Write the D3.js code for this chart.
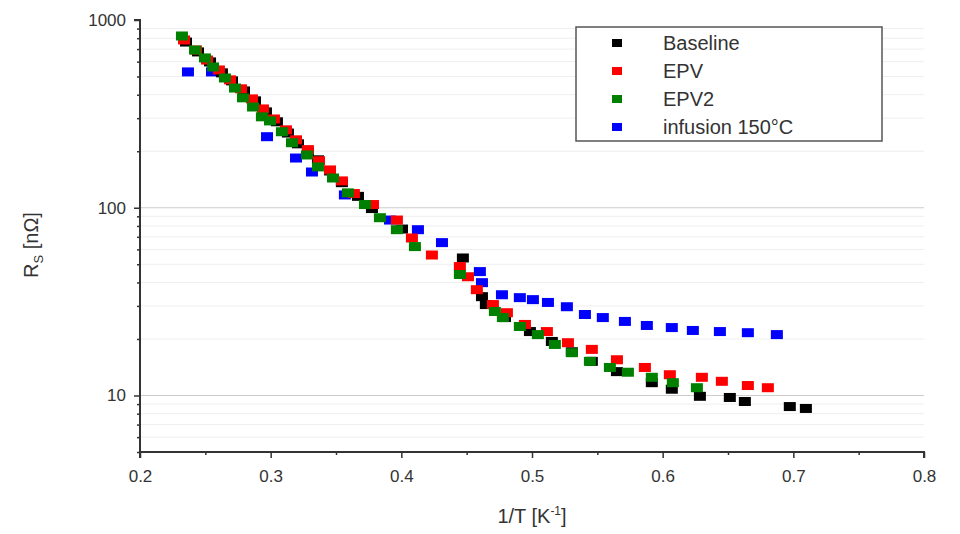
<!DOCTYPE html>
<html>
<head>
<meta charset="utf-8">
<script src="https://cdn.jsdelivr.net/npm/d3@7"></script>
<style>
  body { margin: 0; background: #fff; }
  svg { font-family: "Liberation Sans", Arial, sans-serif; }
</style>
</head>
<body>
<svg width="960" height="534"></svg>
<script>
// data: [1/T in K^-1, Rs in nOhm]
const baseline = [
  [0.2352, 763], [0.2444, 676], [0.2536, 598], [0.2627, 523], [0.2704, 474], [0.2796, 419],
  [0.2880, 371], [0.2964, 324], [0.3048, 287], [0.3132, 250], [0.3209, 219], [0.3285, 199],
  [0.3362, 180], [0.3454, 157], [0.3545, 136], [0.3668, 115], [0.3775, 99], [0.4005, 77],
  [0.4471, 54], [0.4617, 33.6], [0.4647, 30.5], [0.4793, 26.0], [0.4984, 21.9], [0.5152, 19.4],
  [0.5305, 17.1], [0.5458, 15.2], [0.5650, 13.4], [0.5917, 11.7], [0.6070, 10.8], [0.6285, 9.9],
  [0.6514, 9.76], [0.6629, 9.29], [0.6973, 8.73], [0.7096, 8.53]
];
const epv = [
  [0.2337, 783], [0.2428, 692], [0.2513, 612], [0.2604, 542], [0.2689, 480], [0.2773, 430],
  [0.2857, 380], [0.2941, 336], [0.3025, 297], [0.3117, 260], [0.3194, 230], [0.3285, 204],
  [0.3370, 178], [0.3454, 159], [0.3545, 139], [0.3637, 119], [0.3783, 104], [0.3966, 86],
  [0.4081, 69], [0.4234, 56], [0.4448, 48.6], [0.4510, 42.9], [0.4578, 36.6], [0.4701, 30.5],
  [0.4808, 27.6], [0.4946, 23.9], [0.5114, 21.9], [0.5275, 19.1], [0.5458, 17.6], [0.5650, 15.5],
  [0.5864, 14.1], [0.6055, 12.9], [0.6300, 12.5], [0.6453, 11.9], [0.6652, 11.3], [0.6805, 11.0]
];
const epv2 = [
  [0.2321, 822], [0.2421, 692], [0.2497, 628], [0.2559, 562], [0.2650, 491], [0.2727, 434],
  [0.2788, 385], [0.2865, 344], [0.2933, 305], [0.2995, 290], [0.3086, 254], [0.3163, 222],
  [0.3278, 191], [0.3362, 165], [0.3477, 144], [0.3591, 120], [0.3722, 104], [0.3836, 88.5],
  [0.3966, 76.4], [0.4104, 62.1], [0.4448, 44.1], [0.4716, 28.0], [0.4777, 26.0], [0.4907, 23.3],
  [0.5045, 21.1], [0.5175, 18.7], [0.5305, 16.9], [0.5443, 15.2], [0.5596, 14.1], [0.5734, 13.3],
  [0.5917, 12.5], [0.6078, 11.7], [0.6262, 11.0]
];
const infusion = [
  [0.2367, 529], [0.2551, 529], [0.2972, 239], [0.3194, 184], [0.3316, 155], [0.3568, 117],
  [0.3913, 86], [0.4127, 76.4], [0.4311, 65.2], [0.4601, 45.7], [0.4617, 39.9], [0.4770, 34.4],
  [0.4907, 33.2], [0.5007, 32.4], [0.5122, 31.3], [0.5267, 29.7], [0.5405, 27.0], [0.5542, 26.0],
  [0.5711, 24.8], [0.5879, 23.6], [0.6070, 23.0], [0.6231, 22.2], [0.6438, 21.9], [0.6652, 21.6],
  [0.6874, 21.1]
];

const seriesNames = ["Baseline", "EPV", "EPV2", "infusion 150\u00B0C"];
const seriesColors = ["#000000", "#ff0000", "#008000", "#0000ff"];
const xTicks = [0.2, 0.3, 0.4, 0.5, 0.6, 0.7, 0.8];
const yTicks = [10, 100, 1000];

const svg = d3.select("svg");
const x = d3.scaleLinear().domain([0.2, 0.8]).range([140, 924]);
const y = d3.scaleLog().domain([5, 1000]).range([452, 20]);

// minor values for the log axis
const yMinor = [];
[1, 10, 100].forEach(dec => {
  for (let k = 1; k < 10; k++) {
    const v = dec * k;
    if (v >= 5 && v <= 1000 && !yTicks.includes(v)) yMinor.push(v);
  }
});

// grid lines
svg.append("g").selectAll("line.minor")
  .data(yMinor)
  .enter().append("line")
  .attr("x1", x(0.2)).attr("x2", x(0.8))
  .attr("y1", d => y(d)).attr("y2", d => y(d))
  .attr("stroke", "#eeeeee").attr("stroke-width", 1);
svg.append("g").selectAll("line.major")
  .data([10, 100])
  .enter().append("line")
  .attr("x1", x(0.2)).attr("x2", x(0.8))
  .attr("y1", d => y(d)).attr("y2", d => y(d))
  .attr("stroke", "#cccccc").attr("stroke-width", 1.2);

// axes
const xAxis = svg.append("g")
  .attr("transform", `translate(0,${y(5)})`)
  .call(d3.axisBottom(x).tickValues(xTicks).tickFormat(d3.format(".1f")).tickSize(6).tickPadding(12));
svg.append("g")
  .attr("transform", `translate(0,${y(5)})`)
  .call(d3.axisBottom(x).tickValues(d3.range(0.25, 0.8, 0.1)).tickFormat("").tickSize(3))
  .select(".domain").remove();

const yAxis = svg.append("g")
  .attr("transform", `translate(${x(0.2)},0)`)
  .call(d3.axisLeft(y).tickValues(yTicks).tickFormat(d3.format("d")).tickSize(6).tickPadding(8));
svg.append("g")
  .attr("transform", `translate(${x(0.2)},0)`)
  .call(d3.axisLeft(y).tickValues(yMinor).tickFormat("").tickSize(3))
  .select(".domain").remove();

svg.selectAll(".domain").attr("stroke", "#333").attr("stroke-width", 2);
svg.selectAll(".tick line").attr("stroke", "#333").attr("stroke-width", 1.5);
svg.selectAll(".tick text").attr("fill", "#333").style("font-size", "17px");
xAxis.select(".domain").attr("d", `M${x(0.2)},6V0H${x(0.8)}V6`);
yAxis.select(".domain").attr("d", `M-6,${y(1000)}H0V${y(5)}`);

// data points
const allSeries = [baseline, epv, epv2, infusion];
const drawOrder = [3, 0, 1, 2];
drawOrder.forEach(i => {
  svg.append("g").selectAll("rect")
    .data(allSeries[i])
    .enter().append("rect")
    .attr("x", d => x(d[0]) - 6)
    .attr("y", d => y(d[1]) - 4.5)
    .attr("width", 12)
    .attr("height", 9)
    .attr("fill", seriesColors[i]);
});

// axis titles
svg.append("text")
  .attr("x", 532).attr("y", 523)
  .attr("text-anchor", "middle")
  .attr("fill", "#333")
  .style("font-size", "20px")
  .html('1/T [K<tspan dy="-8" font-size="12px">-1</tspan><tspan dy="8">]</tspan>');

svg.append("text")
  .attr("transform", "translate(38,245) rotate(-90)")
  .attr("text-anchor", "middle")
  .attr("fill", "#333")
  .style("font-size", "20px")
  .html('R<tspan dy="5" font-size="13px">S</tspan><tspan dy="-5"> [n\u03A9]</tspan>');

// legend
const legend = svg.append("g");
legend.append("rect")
  .attr("x", 576).attr("y", 27).attr("width", 306).attr("height", 114)
  .attr("fill", "#fff").attr("stroke", "#555").attr("stroke-width", 1.5);
seriesNames.forEach((name, i) => {
  const ly = 43 + i * 28;
  legend.append("rect")
    .attr("x", 612).attr("y", ly - 4)
    .attr("width", 10).attr("height", 8)
    .attr("fill", seriesColors[i]);
  legend.append("text")
    .attr("x", 663).attr("y", ly + 7)
    .attr("fill", "#333")
    .style("font-size", "20px")
    .text(name);
});
</script>
</body>
</html>
